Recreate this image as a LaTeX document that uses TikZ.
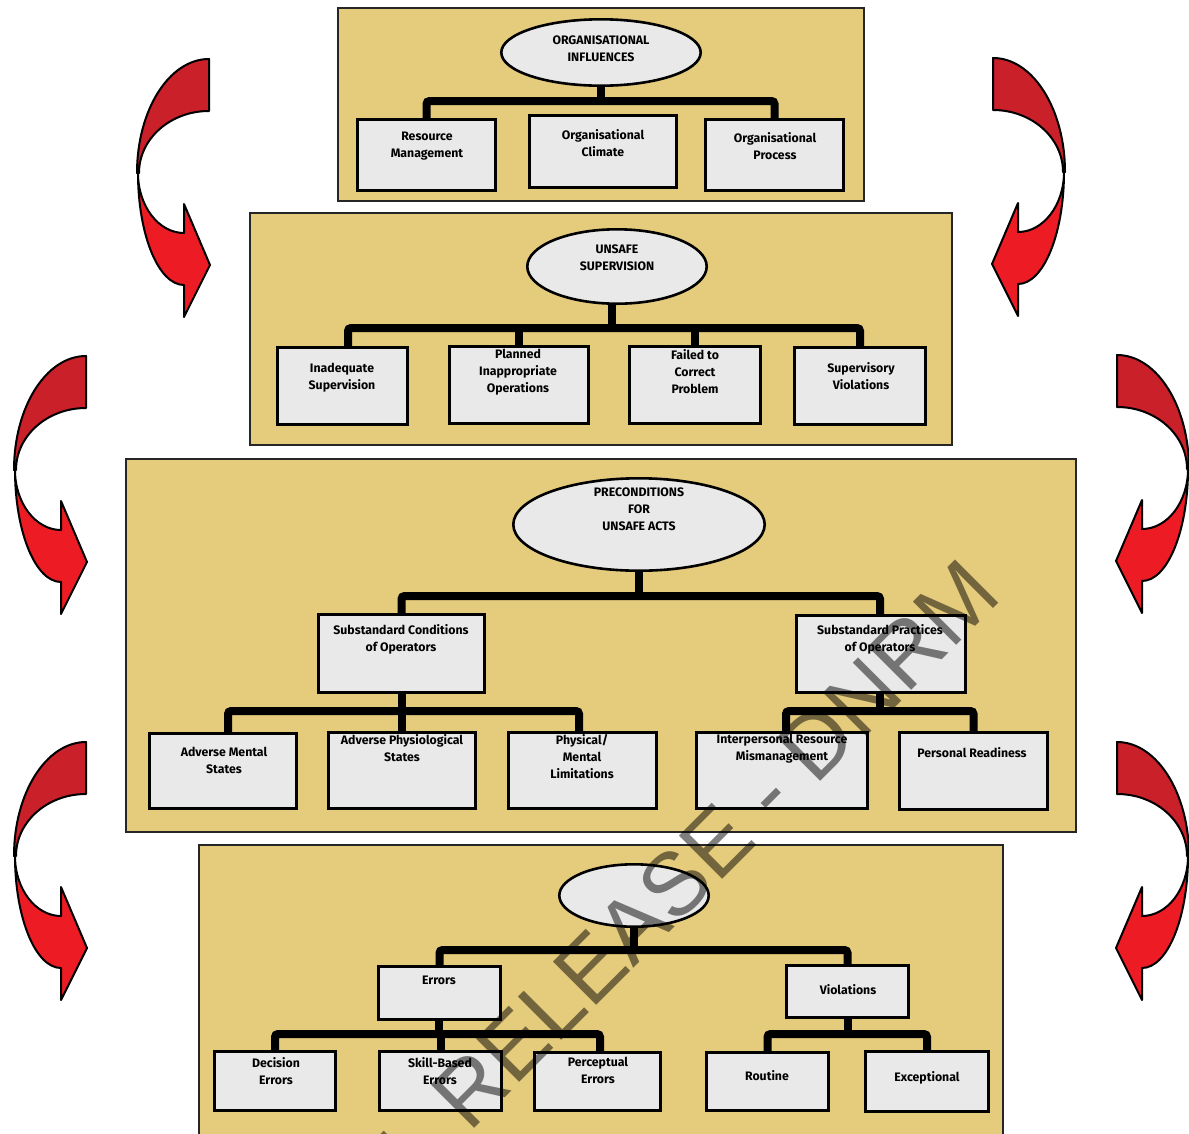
\documentclass[tikz,border=0pt]{standalone}
\usepackage{fontspec}
\setmainfont{Fira Sans}
\newfontfamily\markfont{Liberation Sans}
\usetikzlibrary{shapes.geometric,calc}

\definecolor{panelfill}{RGB}{229,203,124}
\definecolor{boxfill}{RGB}{233,233,233}
\definecolor{ribbondark}{RGB}{201,32,42}
\definecolor{ribbonlight}{RGB}{237,28,36}

\pgfdeclarelayer{panels}
\pgfdeclarelayer{wires}
\pgfsetlayers{panels,wires,main}

\begin{document}
\begin{tikzpicture}[x=1pt,y=-1pt,
  panel/.style={draw=black!85, line width=1.3pt, fill=panelfill},
  box/.style={draw, line width=2.6pt, fill=boxfill, rectangle, inner sep=0pt},
  oval/.style={draw, line width=2.6pt, fill=boxfill, ellipse, inner sep=0pt},
  lbl/.style={anchor=north, inner sep=0pt, align=center,
              font=\bfseries\fontsize{12.3}{17}\selectfont},
  bus/.style={line width=8pt, rounded corners=3pt},
  ribbon/.style={draw, line width=2pt, line join=round},
  wm/.style={rotate=45, text=black, text opacity=0.5, inner sep=0pt,
             font=\markfont\fontsize{89}{89}\selectfont},
  pics/curl/.style={code={
    % back face of the twisted ribbon
    \filldraw[ribbon, fill=ribbondark]
      (0,0) .. controls (-39.8,0) and (-72,51) .. (-72,114)
      -- (-70,114) .. controls (-70,79.8) and (-38.7,52) .. (0,52) -- cycle;
    % front face ending in the arrow head
    \filldraw[ribbon, fill=ribbonlight]
      (-71,114) .. controls (-71,176) and (-50.4,226) .. (-25,226)
      -- (-25,258) -- (1,206) -- (-25,145) -- (-25,174)
      .. controls (-50.4,174) and (-71,147) .. (-71,114) -- cycle;
  }},
]
\useasboundingbox (0,0) rectangle (1189,1133);
\clip (0,0) rectangle (1189,1133);

\begin{pgfonlayer}{panels}
% ---------- level panels ----------
\path[panel] (338,8) rectangle (864,201);
\path[panel] (250,213) rectangle (952,445);
\path[panel] (126,459) rectangle (1076,832);
\path[panel] (199,845) rectangle (1003,1145);

% ---------- curled arrows between levels ----------
\pic (c1l) at (209,59) {curl};
\pic (c2l) at (86,356) {curl};
\pic (c3l) at (86,742) {curl};
\pic[xscale=-1] (c1r) at (993,58) {curl};
\pic[xscale=-1] (c2r) at (1117,355) {curl};
\pic[xscale=-1] (c3r) at (1117,742) {curl};
\end{pgfonlayer}

% ---------- nodes: level 1 ----------
\node[oval, minimum width=199.4pt, minimum height=66.4pt] (e1) at (601,52.5) {};
\node[box, minimum width=138.4pt, minimum height=71.4pt] (rm) at (426.5,155) {};
\node[box, minimum width=147.4pt, minimum height=72.4pt] (oc) at (603,151.5) {};
\node[box, minimum width=138.4pt, minimum height=71.4pt] (op) at (774.5,155) {};

% ---------- nodes: level 2 ----------
\node[oval, minimum width=179.4pt, minimum height=74.4pt] (e2) at (617,266.5) {};
\node[box, minimum width=130.4pt, minimum height=77.4pt] (is) at (342.5,386) {};
\node[box, minimum width=139.4pt, minimum height=77.4pt] (pio) at (519,385) {};
\node[box, minimum width=131.4pt, minimum height=77.4pt] (fcp) at (695,385) {};
\node[box, minimum width=131.4pt, minimum height=77.4pt] (sv) at (860,386) {};

% ---------- nodes: level 3 ----------
\node[oval, minimum width=251.4pt, minimum height=92.4pt] (e3) at (639,524.5) {};
\node[box, minimum width=166.4pt, minimum height=78.4pt] (sco) at (401.5,653.5) {};
\node[box, minimum width=169.4pt, minimum height=77.4pt] (spo) at (881,654) {};
\node[box, minimum width=147.4pt, minimum height=75.4pt] (ams) at (223,771) {};
\node[box, minimum width=147.4pt, minimum height=76.4pt] (aps) at (402,770.5) {};
\node[box, minimum width=148.4pt, minimum height=76.4pt] (pml) at (582.5,770.5) {};
\node[box, minimum width=171.4pt, minimum height=76.4pt] (irm) at (782,770.5) {};
\node[box, minimum width=148.4pt, minimum height=77.4pt] (pr) at (973.5,771) {};

% ---------- nodes: level 4 ----------
\node[oval, minimum width=149.4pt, minimum height=62.4pt] (e4) at (634,895.5) {};
\node[box, minimum width=122.4pt, minimum height=53.4pt] (err) at (439.5,993) {};
\node[box, minimum width=122.4pt, minimum height=52.4pt] (vio) at (847.5,991.5) {};
\node[box, minimum width=121.4pt, minimum height=59.4pt] (de) at (275,1081) {};
\node[box, minimum width=122.4pt, minimum height=59.4pt] (sbe) at (440.5,1081) {};
\node[box, minimum width=126.4pt, minimum height=58.4pt] (pe) at (597.5,1081.5) {};
\node[box, minimum width=122.4pt, minimum height=58.4pt] (rou) at (767.5,1081.5) {};
\node[box, minimum width=123.4pt, minimum height=60.4pt] (exc) at (927,1081.5) {};

% ---------- connector buses ----------
\coordinate (b1) at (601,101);
\coordinate (b2) at (612,328);
\coordinate (b3) at (639,596);
\coordinate (b3l) at (402,711);
\coordinate (b3r) at (880,711);
\coordinate (b4) at (634,950);
\coordinate (b4l) at (439,1034);
\coordinate (b4r) at (848,1034);

\begin{pgfonlayer}{wires}
% level 1
\draw[bus] (b1 |- e1.south) -- (b1);
\draw[bus] (rm.north) |- (b1) -| (op.north);
% level 2
\draw[bus] (b2 |- e2.south) -- (b2);
\draw[bus] ($(is.north)+(5.5,0)$) |- (b2) -| (sv.north);
\draw[bus] (pio.north) -- (pio.north |- b2);
\draw[bus] (fcp.north) -- (fcp.north |- b2);
% level 3
\draw[bus] (b3 |- e3.south) -- (b3);
\draw[bus] (sco.north) |- (b3) -| ($(spo.north)+(-1,0)$);
\draw[bus] (b3l |- sco.south) -- (b3l);
\draw[bus] ($(ams.north)+(5,0)$) |- (b3l) -| ($(pml.north)+(-3.5,0)$);
\draw[bus] (aps.north) -- (aps.north |- b3l);
\draw[bus] (b3r |- spo.south) -- (b3r);
\draw[bus] ($(irm.north)+(4,0)$) |- (b3r) -| (pr.north);
% level 4
\draw[bus] (b4 |- e4.south) -- (b4);
\draw[bus] (err.north) |- (b4) -| (vio.north);
\draw[bus] (b4l |- err.south) -- (b4l);
\draw[bus] (de.north) |- (b4l) -| ($(pe.north)+(2.5,0)$);
\draw[bus] (sbe.north) -- (sbe.north |- b4l);
\draw[bus] (b4r |- vio.south) -- (b4r);
\draw[bus] (rou.north) |- (b4r) -| (exc.north);
\end{pgfonlayer}

% ---------- labels ----------
\node[lbl] (e1t) at (601,36) {ORGANISATIONAL\\INFLUENCES};
\node[lbl] (e2t) at (617,245) {UNSAFE\\SUPERVISION};
\node[lbl] (e3t) at (639,488) {PRECONDITIONS\\FOR\\UNSAFE ACTS};
\node[lbl] (rmt) at (427,132) {Resource\\Management};
\node[lbl] (oct) at (603,129) {Organisational\\Climate};
\node[lbl] (opt) at (775,132) {Organisational\\Process};
\node[lbl] (ist) at (342,363) {Inadequate\\Supervision};
\node[lbl] (piot) at (518,349) {Planned\\Inappropriate\\Operations};
\node[lbl] (fcpt) at (695,349) {Failed to\\Correct\\Problem};
\node[lbl] (svt) at (861,362) {Supervisory\\Violations};
\node[lbl] (scot) at (401,624) {Substandard Conditions\\of Operators};
\node[lbl] (spot) at (880,624) {Substandard Practices\\of Operators};
\node[lbl] (amst) at (224,747) {Adverse Mental\\States};
\node[lbl] (apst) at (402,734) {Adverse Physiological\\States};
\node[lbl] (pmlt) at (582,734) {Physical/\\Mental\\Limitations};
\node[lbl] (irmt) at (782,734) {Interpersonal Resource\\Mismanagement};
\node[lbl] (prt) at (972,747) {Personal Readiness};
\node[lbl] (errt) at (439,976) {Errors};
\node[lbl] (viot) at (848,984) {Violations};
\node[lbl] (det) at (276,1057) {Decision\\Errors};
\node[lbl] (sbet) at (440,1057) {Skill-Based\\Errors};
\node[lbl] (pet) at (598,1057) {Perceptual\\Errors};
\node[lbl] (rout) at (767,1070) {Routine};
\node[lbl] (exct) at (927,1071) {Exceptional};

% ---------- stamp ----------
\node[wm] (mark) at (689,870) {L RELEASE - DNRM};
\end{tikzpicture}
\end{document}
